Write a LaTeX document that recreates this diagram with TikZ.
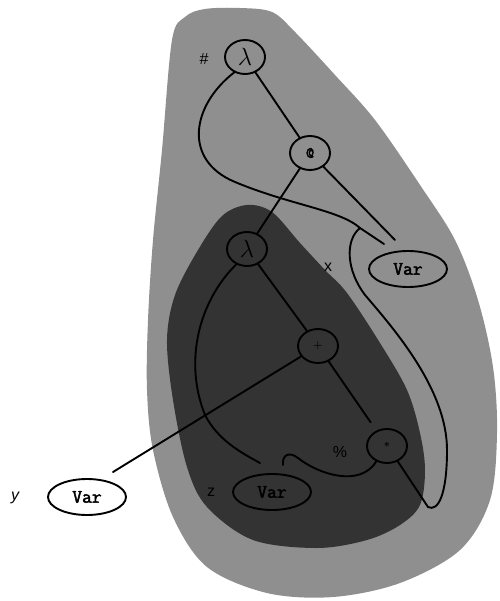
\documentclass[tikz,border=0pt]{standalone}
\usepackage{fontspec}
\setsansfont{Liberation Sans}
\newfontfamily\varfont{Latin Modern Mono}[FakeBold=2.5]
\usetikzlibrary{shapes.geometric}

\tikzset{
  opnode/.style={draw, ellipse, line width=1.9pt, minimum width=40pt, minimum height=34pt, inner sep=0pt},
  varnode/.style={draw, ellipse, line width=1.9pt, minimum width=78pt, minimum height=36pt, inner sep=0pt, font=\fontsize{19}{19}\selectfont\varfont},
  namelbl/.style={font=\fontsize{16}{16}\selectfont\sffamily},
  wire/.style={line width=1.9pt, line cap=round}
}

\begin{document}
\begin{tikzpicture}[x=1pt, y=-1pt]
    \useasboundingbox (0,0) rectangle (499,601);

    % outer region (light grey)
    \fill[black!44] plot[smooth cycle, tension=0.55] coordinates {
      (185,17) (205,9) (240,8) (272,12) (295,32) (335,75) (375,120) (420,185)
      (455,240) (478,300) (493,367) (497,433) (490,500) (460,550) (400,583)
      (333,597) (267,593) (207,567) (173,517) (153,450) (147,390) (148,320)
      (153,240) (162,150) (172,40)};

    % inner region (dark grey)
    \fill[black!80] plot[smooth cycle, tension=0.55] coordinates {
      (247,205) (272,212) (300,243) (325,270) (347,293) (380,343) (407,390)
      (420,433) (425,470) (420,505) (400,525) (367,540) (317,548) (253,540)
      (207,507) (187,467) (173,400) (167,340) (175,295) (198,250) (222,216)};

    % term nodes
    \node[opnode, font=\fontsize{23}{23}\selectfont] (lamA) at (245,57) {$\lambda$};
    \node[opnode, font=\fontsize{16}{16}\selectfont\varfont] (app) at (310,153) {@};
    \node[opnode, font=\fontsize{23}{23}\selectfont] (lamB) at (247,249) {$\lambda$};
    \node[opnode, font=\fontsize{11}{11}\selectfont\bfseries] (add) at (318,346) {+};
    \node[opnode, font=\fontsize{11}{11}\selectfont\bfseries] (mul) at (387,446) {*};
    \node[varnode] (varx) at (408,269) {Var};
    \node[varnode] (varz) at (272,492) {Var};
    \node[varnode] (vary) at (87,497) {Var};

    % names
    \node[namelbl] (hash) at (204,59) {\#};
    \node[namelbl] (xname) at (328,267) {x};
    \node[namelbl] (yname) at (15,498) {\itshape y};
    \node[namelbl] (zname) at (211,492) {z};
    \node[namelbl] (pct) at (340,452) {\%};

    % loose wire ends
    \coordinate (xtop) at (384,244);
    \coordinate (xjoin) at (360,228);
    \coordinate (xapp) at (395,240);
    \coordinate (ytop) at (113,472);
    \coordinate (zleft) at (260,463);
    \coordinate (zright) at (283,465);

    % straight wires
    \draw[wire] (lamA) -- (app);
    \draw[wire] (app) -- (xapp);
    \draw[wire] (app) -- (lamB);
    \draw[wire] (lamB) -- (add);
    \draw[wire, shorten >=10pt] (add) -- (mul);
    \draw[wire] (add) -- (ytop);

    % curved wires
    \draw[wire] (lamA.235) .. controls (192,105) and (182,160) .. (235,182)
      .. controls (290,205) and (340,210) .. (xjoin) -- (xtop);
    \draw[wire] (xjoin) .. controls (345,240) and (346,270) .. (365,295)
      .. controls (395,330) and (447,390) .. (447,450)
      .. controls (447,495) and (438,512) .. (428,507) -- (mul.-55);
    \draw[wire] (zright) .. controls (282,455) and (289,451) .. (298,458)
      .. controls (318,474) and (360,488) .. (mul.235);
    \draw[wire] (lamB.235) .. controls (200,300) and (183,360) .. (205,415)
      .. controls (218,440) and (240,452) .. (zleft);
\end{tikzpicture}
\end{document}
